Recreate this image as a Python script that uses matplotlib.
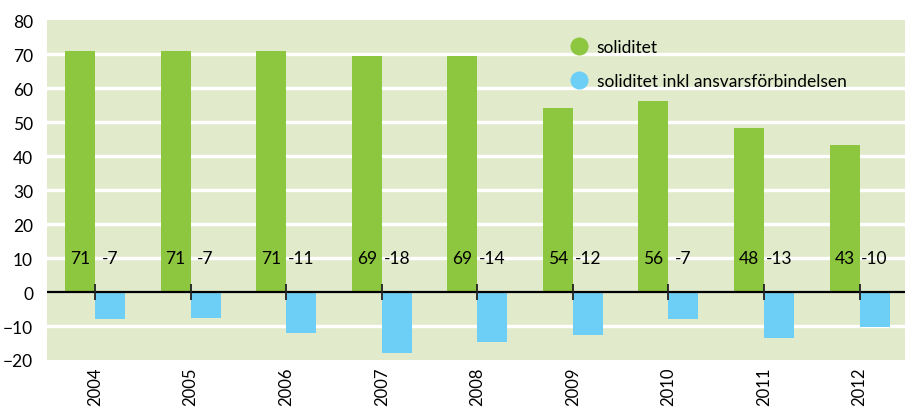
import numpy as np
import matplotlib
matplotlib.use('Agg')
import matplotlib.pyplot as plt

plt.rcParams['font.family'] = ['Lato', 'DejaVu Sans']

YEARS = ['2004', '2005', '2006', '2007', '2008', '2009', '2010', '2011', '2012']
SOLIDITET = [70.9, 70.9, 70.9, 69.5, 69.4, 54.1, 56.2, 48.2, 43.2]
SOLIDITET_INKL = [-7.9, -7.6, -12.0, -18.0, -14.6, -12.6, -7.9, -13.5, -10.3]
LABELS_SOL = ['71', '71', '71', '69', '69', '54', '56', '48', '43']
LABELS_INKL = ['-7', '-7', '-11', '-18', '-14', '-12', '-7', '-13', '-10']
SERIES_NAMES = ['soliditet', 'soliditet inkl ansvarsförbindelsen']

GREEN = '#8dc63f'
BLUE = '#6dcff6'
BG = '#e1ebcc'

fig = plt.figure(figsize=(9.05, 4.10), dpi=100)
ax = fig.add_axes([47 / 905, 1 - 361 / 410, 858 / 905, 340 / 410])
ax.set_facecolor(BG)

x = np.arange(len(YEARS))
w = 0.314
ax.bar(x - w / 2, SOLIDITET, w, color=GREEN, zorder=3)
ax.bar(x + w / 2, SOLIDITET_INKL, w, color=BLUE, zorder=3)

# white gridlines, black zero line with small ticks at bar boundary
for y in range(-10, 80, 10):
    if y != 0:
        ax.axhline(y, color='white', lw=2.4, zorder=1)
ax.axhline(0, color='black', lw=1.6, zorder=4)
ax.plot(x, np.zeros(len(x)), ls='none', marker='|', ms=11, mew=1.3,
        color='#222222', zorder=5)

# value labels at y=10
for i in range(len(YEARS)):
    ax.text(x[i] - w / 2, 10, LABELS_SOL[i], ha='center', va='center',
            fontsize=12.5, zorder=6)
    ax.text(x[i] + w / 2, 10, LABELS_INKL[i], ha='center', va='center',
            fontsize=12.5, zorder=6)

ax.set_xlim(-0.502, 8.475)
ax.set_ylim(-20, 80)
ax.set_yticks(range(-20, 90, 10))
ax.set_xticks(x)
ax.set_xticklabels(YEARS, rotation=90, fontsize=12)
ax.tick_params(axis='y', length=0, labelsize=12.5, pad=10)
ax.tick_params(axis='x', length=0, pad=5)
for s in ax.spines.values():
    s.set_visible(False)

# legend
ax.plot([], [], ls='none', marker='o', ms=12, color=GREEN, label=SERIES_NAMES[0])
ax.plot([], [], ls='none', marker='o', ms=12, color=BLUE, label=SERIES_NAMES[1])
ax.legend(loc='upper left', bbox_to_anchor=(0.6, 0.965), frameon=False,
          fontsize=12.5, handletextpad=0.4, labelspacing=1.05,
          handlelength=1.2, borderaxespad=0)

fig.savefig('out.png', dpi=100)
